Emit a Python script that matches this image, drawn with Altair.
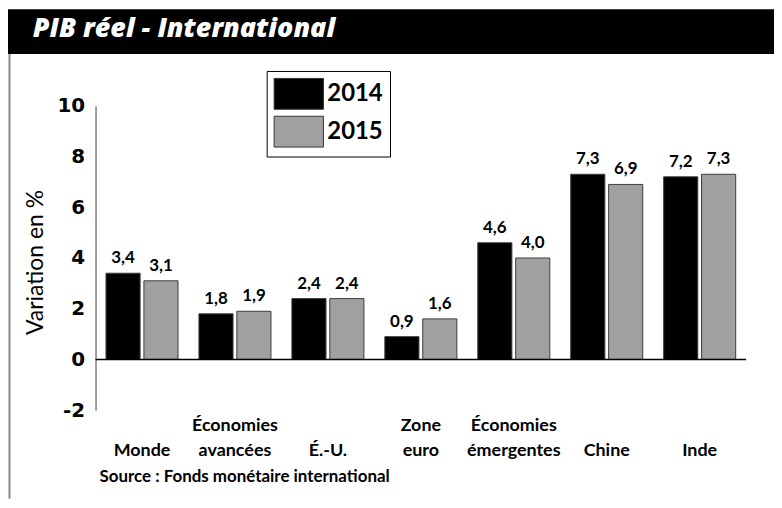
import altair as alt
import pandas as pd

# ---- data ----
categories = ["Monde", "Économies\navancées", "É.-U.", "Zone\neuro",
              "Économies\némergentes", "Chine", "Inde"]
years = ["2014", "2015"]
values_2014 = [3.4, 1.8, 2.4, 0.9, 4.6, 7.3, 7.2]
values_2015 = [3.1, 1.9, 2.4, 1.6, 4.0, 6.9, 7.3]
y_ticks = [-2, 0, 2, 4, 6, 8, 10]
title_text = "PIB réel - International"
y_title = "Variation en %"
source_text = "Source : Fonds monétaire international"

rows = []
for c, a, b in zip(categories, values_2014, values_2015):
    for yr, v in ((years[0], a), (years[1], b)):
        rows.append({"cat": c, "year": yr, "value": v,
                     "label": f"{v:.1f}".replace(".", ",")})
df = pd.DataFrame(rows)
# single-line names get an empty first line so every label sits on the same bottom line
cat_df = pd.DataFrame({"cat": categories,
                       "shown": [c if "\n" in c else "\n" + c for c in categories]})
txt_df = pd.DataFrame({"t": [title_text], "s": [source_text]})

W, H = 654, 306
FONT = "Lato"

x_enc = alt.X("cat:N", sort=categories, axis=None,
              scale=alt.Scale(paddingInner=0.225, paddingOuter=0.1125))
xo_enc = alt.XOffset("year:N", sort=years,
                     scale=alt.Scale(paddingInner=0.1, paddingOuter=0))
y_enc = alt.Y("value:Q",
              scale=alt.Scale(domain=[-2, 10], nice=False, zero=False),
              axis=alt.Axis(values=y_ticks, ticks=False, grid=False,
                            domainColor="#808080", domainWidth=1.5,
                            labelExpr="'' + datum.value",
                            labelFont="DejaVu Sans", labelFontWeight="bold",
                            labelFontSize=20, labelColor="black", labelPadding=11,
                            title=y_title, titleFont=FONT, titleFontSize=23,
                            titleFontWeight="normal", titleColor="black",
                            titleX=-53, titleY=H / 2 + 4, titleBaseline="alphabetic"))

bars = alt.Chart(df).mark_bar(stroke="#3c3c3c", strokeWidth=1).encode(
    x=x_enc, xOffset=xo_enc, y=y_enc,
    color=alt.Color("year:N",
                    scale=alt.Scale(domain=years, range=["#000000", "#a0a0a0"]),
                    legend=alt.Legend(title=None, orient="none", legendX=172, legendY=-35,
                                      symbolType="M-1,-1H2.2V1H-1Z", symbolSize=961,
                                      symbolStrokeColor="#333333", symbolStrokeWidth=1,
                                      symbolOpacity=1, labelFont=FONT, labelFontSize=24,
                                      labelFontWeight="bold", labelColor="black",
                                      labelOffset=22, rowPadding=2, padding=7,
                                      strokeColor="#000000", fillColor="white")),
)

values_txt = alt.Chart(df).mark_text(baseline="alphabetic", dy=-10, font=FONT,
                                     fontSize=17, fontWeight="bold", color="black").encode(
    x=x_enc, xOffset=xo_enc, y=alt.Y("value:Q"), text="label:N")

zero = alt.Chart(txt_df).mark_rule(color="black", strokeWidth=1.5).encode(
    y=alt.datum(0), x=alt.value(0), x2=alt.value(W))

cats = alt.Chart(cat_df).mark_text(lineBreak="\n", baseline="alphabetic", font=FONT,
                                   fontSize=18, fontWeight="bold", lineHeight=25,
                                   color="black").encode(
    x=alt.X("cat:N", sort=categories), y=alt.value(327), text="shown:N")

header = alt.Chart(txt_df).mark_rect(color="black").encode(
    x=alt.value(-88), x2=alt.value(682), y=alt.value(-97), y2=alt.value(-52))

title = alt.Chart(txt_df).mark_text(align="left", baseline="alphabetic", font="Open Sans",
                                    fontSize=27, fontStyle="italic", fontWeight=800,
                                    color="white").encode(
    x=alt.value(-63), y=alt.value(-69), text="t:N")

frame = alt.Chart(txt_df).mark_rule(color="#888888", strokeWidth=2).encode(
    x=alt.value(-86.5), y=alt.value(-52), y2=alt.value(395))

source = alt.Chart(txt_df).mark_text(align="left", baseline="alphabetic", font=FONT,
                                     fontSize=17, fontWeight="bold", color="black").encode(
    x=alt.value(4), y=alt.value(378), text="s:N")

chart = alt.layer(header, title, frame, bars, values_txt, zero, cats, source).properties(
    width=W, height=H,
    autosize=alt.AutoSizeParams(type="none"),
    padding={"left": 88, "top": 97, "right": 28, "bottom": 95},
).configure_view(stroke=None)

chart.save("out.html", embed_options={"renderer": "svg", "actions": False})
